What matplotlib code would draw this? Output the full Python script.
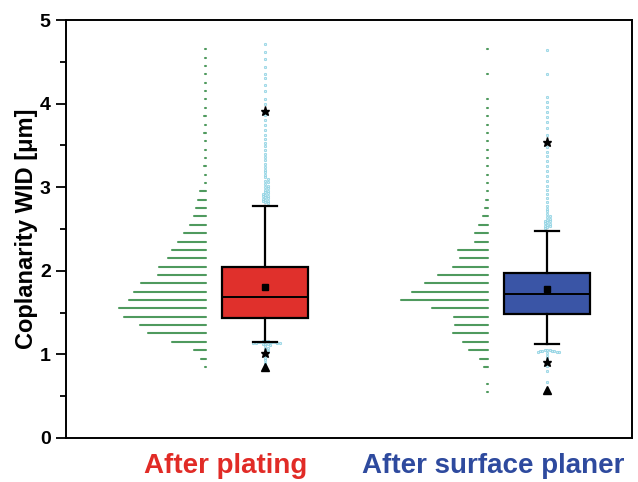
import matplotlib
matplotlib.use('Agg')
import matplotlib.pyplot as plt
import matplotlib.transforms as mtransforms
import numpy as np

plt.rcParams['font.family'] = ['Liberation Sans', 'DejaVu Sans']
plt.rcParams['font.weight'] = 'bold'

# two process steps
groups = ['After plating', 'After surface planer']
group_colors = ['#e0302c', '#3a55a6']
label_colors = ['#e12b26', '#2e4a9e']

# box statistics (um)
q1 = [1.44, 1.48]
median = [1.69, 1.72]
q3 = [2.04, 1.97]
mean = [1.81, 1.78]
whisker_lo = [1.15, 1.13]
whisker_hi = [2.78, 2.48]
pct_lo = [1.02, 0.91]      # star markers
pct_hi = [3.91, 3.54]
minimum = [0.85, 0.57]     # triangle markers

# histogram (0.1 um bins)
plating_bins = np.round(np.arange(0.85, 4.66, 0.1), 2)
plating_counts = [1, 5, 12, 34, 58, 66, 82, 87, 77, 72, 65, 48, 47, 38, 34, 28,
                  22, 16, 12, 10, 8, 6, 1, 1, 2, 1, 1, 1, 2, 1, 2, 1, 1, 1, 1,
                  1, 1, 1, 1]
planer_bins = np.round(np.arange(0.55, 4.66, 0.1), 2)
planer_counts = [1, 1, 0, 4, 8, 19, 25, 35, 33, 34, 56, 87, 76, 63, 50, 35, 28,
                 30, 13, 13, 9, 5, 3, 2, 1, 1, 1, 1, 1, 1, 1, 1, 1, 1, 1, 1, 0,
                 0, 1, 0, 0, 1]

# points outside the whiskers
plating_hi = [4.71, 4.62, 4.53, 4.44, 4.36, 4.31, 4.22, 4.15, 4.06, 3.99, 3.86,
              3.80, 3.74, 3.69, 3.63, 3.58, 3.53, 3.49, 3.44, 3.40, 3.36, 3.32,
              3.28, 3.24, 3.21, 3.18, 3.15, 3.12, 3.10, 3.08, 3.06, 3.04, 3.02,
              3.00, 2.99, 2.97, 2.96, 2.94, 2.93, 2.92, 2.91, 2.90, 2.89, 2.88,
              2.87, 2.86, 2.85, 2.84, 2.83, 2.82, 2.81]
plating_lo = [1.16, 1.16, 1.16, 1.15, 1.15, 1.15, 1.15, 1.15, 1.14, 1.14, 1.14,
              1.14, 1.13, 1.13, 1.12, 1.11, 1.10, 1.08, 1.06, 1.04, 0.99, 0.96,
              0.93, 0.90, 0.87]
planer_hi = [4.64, 4.35, 4.08, 4.02, 3.96, 3.90, 3.84, 3.78, 3.71, 3.63, 3.48,
             3.42, 3.37, 3.31, 3.25, 3.19, 3.13, 3.07, 3.02, 2.97, 2.92, 2.87,
             2.82, 2.78, 2.74, 2.71, 2.68, 2.66, 2.64, 2.62, 2.61, 2.60, 2.59,
             2.58, 2.57, 2.56, 2.55, 2.54, 2.53, 2.52, 2.51]
planer_lo = [1.05, 1.05, 1.05, 1.04, 1.04, 1.04, 1.04, 1.03, 1.03, 1.03, 1.02,
             0.98, 0.94, 0.86, 0.80, 0.67]

bins = [plating_bins, planer_bins]
counts = [plating_counts, planer_counts]
outliers = [plating_hi + plating_lo, planer_hi + planer_lo]

positions = [1, 2]
box_width = 0.305
hist_gap = 0.21


def swarm(vals, d):
    # simple beeswarm: put each point at the nearest free slot
    placed = []
    offs = []
    for y in vals:
        k = 0
        while True:
            for x in ([0.0] if k == 0 else [k * d, -k * d]):
                ok = True
                for (py, px) in placed:
                    dy = abs(py - y)
                    if dy < d and abs(px - x) < np.sqrt(d * d - dy * dy) - 1e-9:
                        ok = False
                        break
                if ok:
                    break
            if ok:
                break
            k += 0.5
        placed.append((y, x))
        offs.append(x)
    return np.array(offs)


fig = plt.figure(figsize=(6.38, 4.82), dpi=100)
ax = fig.add_axes([0.1034, 0.0913, 0.887, 0.8672])
ax.set_xlim(0.294, 2.30)
ax.set_ylim(0, 5)

ax_px = ax.get_position().width * fig.get_figwidth() * fig.dpi
px_x = (2.30 - 0.294) / ax_px                 # data units per pixel in x
px_y = ax.get_position().height * fig.get_figheight() * fig.dpi / 5.0

for i, p in enumerate(positions):
    # horizontal histogram to the left of the box
    c = np.array(counts[i], dtype=float)
    b = bins[i][c > 0]
    c = c[c > 0]
    base = p - hist_gap
    ax.hlines(b, base - c * px_x, base, color='#4f9a5e', lw=1.5,
              capstyle='round', zorder=2)

    # data points outside the whiskers
    v = np.array(outliers[i])
    off = swarm(v * px_y, 2.4) * px_x
    ax.scatter(p + off, v, s=3, facecolor='#d4eef5', edgecolor='#86cfe0',
               linewidths=0.5, zorder=3)

stats = []
for i in range(2):
    stats.append(dict(med=median[i], q1=q1[i], q3=q3[i], whislo=whisker_lo[i],
                      whishi=whisker_hi[i], mean=mean[i], fliers=[]))

bp = ax.bxp(stats, positions=positions, widths=box_width, capwidths=0.085,
            showmeans=True, patch_artist=True, manage_ticks=False,
            boxprops=dict(lw=1.6, edgecolor='black'),
            medianprops=dict(color='black', lw=1.4),
            whiskerprops=dict(color='black', lw=1.6),
            capprops=dict(color='black', lw=1.6),
            meanprops=dict(marker='s', markerfacecolor='black',
                           markeredgecolor='black', markersize=4))
for patch, col in zip(bp['boxes'], group_colors):
    patch.set_facecolor(col)
    patch.set_zorder(4)
for key in ['medians', 'whiskers', 'caps', 'means']:
    for art in bp[key]:
        art.set_zorder(5)

ax.plot(positions, pct_hi, '*', color='black', ms=6.5, zorder=6)
ax.plot(positions, pct_lo, '*', color='black', ms=6.5, zorder=6)
ax.plot(positions, minimum, '^', color='black', ms=5.5, zorder=6)

ax.set_yticks([0, 1, 2, 3, 4, 5])
ax.set_yticks([0.5, 1.5, 2.5, 3.5, 4.5], minor=True)
ax.tick_params(axis='y', which='major', direction='out', length=7, width=1.3,
               labelsize=14, pad=4)
ax.tick_params(axis='y', which='minor', direction='out', length=4, width=1.3)
ax.set_xticks([])
for s in ax.spines.values():
    s.set_linewidth(1.4)

ax.set_ylabel('Coplanarity WID [\u03bcm]', fontsize=17, fontweight='bold')
ax.yaxis.set_label_coords(-0.05, 0.5)

trans = mtransforms.blended_transform_factory(ax.transData, fig.transFigure)
label_x = [0.86, 1.81]
for i in range(2):
    ax.text(label_x[i], 0.018, groups[i], transform=trans, ha='center',
            va='baseline', fontsize=20, fontweight='bold', color=label_colors[i])

fig.savefig('out.png', dpi=100)
